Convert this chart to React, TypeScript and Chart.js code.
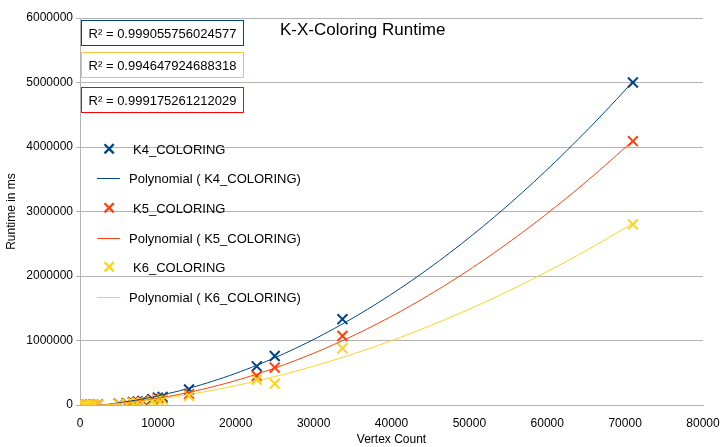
import { useEffect, useRef } from 'react';
import Chart from 'chart.js/auto';

const vertexCounts = [300, 600, 900, 1300, 1700, 2300, 5000, 6000, 6800, 7400, 8000, 9300, 10000, 10600, 14000, 22700, 25000, 33700, 71000];
const k4Runtime = [2000, 3000, 4000, 5000, 6000, 8000, 20000, 30000, 45000, 55000, 65000, 90000, 115000, 125000, 240000, 600000, 760000, 1330000, 5000000];
const k5Runtime = [1500, 2500, 3000, 4000, 5000, 6000, 16000, 24000, 35000, 45000, 52000, 75000, 95000, 100000, 170000, 450000, 580000, 1070000, 4090000];
const k6Runtime = [1000, 2000, 2500, 3000, 4000, 5000, 12000, 18000, 28000, 35000, 42000, 60000, 80000, 85000, 140000, 390000, 330000, 880000, 2800000];
const rSquared = ['0.999055756024577', '0.994647924688318', '0.999175261212029'];

const K4 = '#004586';
const K5 = '#ff420e';
const K6 = '#ffd320';

// least squares quadratic, evaluated along the x range
function trend(xs: number[], ys: number[]) {
  const s = [0, 0, 0, 0, 0];
  const t = [0, 0, 0];
  xs.forEach((x, i) => {
    for (let k = 0; k < 5; k++) s[k] += Math.pow(x, k);
    for (let k = 0; k < 3; k++) t[k] += Math.pow(x, k) * ys[i];
  });
  const m = [[s[0], s[1], s[2], t[0]], [s[1], s[2], s[3], t[1]], [s[2], s[3], s[4], t[2]]];
  for (let i = 0; i < 3; i++) {
    for (let j = i + 1; j < 3; j++) {
      const f = m[j][i] / m[i][i];
      for (let k = i; k < 4; k++) m[j][k] -= f * m[i][k];
    }
  }
  const c = [0, 0, 0];
  for (let i = 2; i >= 0; i--) {
    let v = m[i][3];
    for (let k = i + 1; k < 3; k++) v -= m[i][k] * c[k];
    c[i] = v / m[i][i];
  }
  const out = [];
  const xmax = Math.max(...xs);
  for (let i = 0; i <= 100; i++) {
    const x = (xmax * i) / 100;
    out.push({ x, y: c[0] + c[1] * x + c[2] * x * x });
  }
  return out;
}

const pts = (ys: number[]) => vertexCounts.map((x, i) => ({ x, y: ys[i] }));

export default function App() {
  const canvasRef = useRef<HTMLCanvasElement | null>(null);

  useEffect(() => {
    document.body.style.margin = '0';
    const ctx = canvasRef.current!.getContext('2d')!;
    const scatter = (data: any, color: string) => ({
      type: 'scatter' as const, data, showLine: false, pointStyle: 'crossRot',
      pointRadius: 7, borderColor: color, backgroundColor: color, borderWidth: 2,
    });
    const line = (data: any, color: string) => ({
      type: 'line' as const, data, pointRadius: 0, borderColor: color, borderWidth: 1, tension: 0,
    });
    const chart = new Chart(ctx, {
      type: 'scatter',
      data: {
        datasets: [
          line(trend(vertexCounts, k6Runtime), K6),
          line(trend(vertexCounts, k5Runtime), K5),
          line(trend(vertexCounts, k4Runtime), K4),
          scatter(pts(k6Runtime), K6),
          scatter(pts(k5Runtime), K5),
          scatter(pts(k4Runtime), K4),
        ] as any,
      },
      options: {
        animation: false,
        responsive: false,
        layout: { padding: { top: 18, right: 20 } },
        plugins: { legend: { display: false }, tooltip: { enabled: false } },
        scales: {
          x: {
            type: 'linear', min: 0, max: 80000,
            ticks: { stepSize: 10000, color: '#000', font: { family: 'Liberation Sans', size: 12 }, callback: (v: any) => String(v) },
            grid: { display: false },
            border: { color: '#b3b3b3' },
            title: { display: true, text: 'Vertex Count', color: '#000', padding: 0, font: { family: 'Liberation Sans', size: 12 } },
            afterFit: (s: any) => { s.height = 42; },
          },
          y: {
            min: 0, max: 6000000,
            ticks: { stepSize: 1000000, color: '#000', font: { family: 'Liberation Sans', size: 12 }, callback: (v: any) => String(v) },
            grid: { color: '#b3b3b3', tickLength: 4 },
            border: { color: '#b3b3b3' },
            title: { display: true, text: 'Runtime in ms', color: '#000', font: { family: 'Liberation Sans', size: 12 } },
            afterFit: (s: any) => { s.width = 80; },
          },
        },
      },
    });
    return () => chart.destroy();
  }, []);

  const font = { fontFamily: 'Liberation Sans, Arial, sans-serif', fontSize: 13, color: '#000' };
  const box = (top: number, border: string, text: string) => (
    <div style={{ position: 'absolute', left: 81, top, width: 163, height: 26, border: `1px solid ${border}`, background: '#fff', boxSizing: 'border-box', display: 'flex', alignItems: 'center', justifyContent: 'center', ...font }}>
      R² = {text}
    </div>
  );
  const legend = [
    { y: 149, mark: true, color: K4, text: 'K4_COLORING' },
    { y: 178, mark: false, color: K4, text: 'Polynomial ( K4_COLORING)' },
    { y: 208, mark: true, color: K5, text: 'K5_COLORING' },
    { y: 238, mark: false, color: K5, text: 'Polynomial ( K5_COLORING)' },
    { y: 267, mark: true, color: K6, text: 'K6_COLORING' },
    { y: 297, mark: false, color: K6, text: 'Polynomial ( K6_COLORING)' },
  ];

  return (
    <div style={{ position: 'relative', width: 723, height: 447 }}>
      <canvas ref={canvasRef} width={723} height={447} />
      <div style={{ position: 'absolute', left: 280, top: 20, fontFamily: 'Liberation Sans, Arial, sans-serif', fontSize: 17, color: '#000' }}>K-X-Coloring Runtime</div>
      {box(20, K4, rSquared[0])}
      {box(52, '#f5c542', rSquared[1])}
      {box(87, '#ff0000', rSquared[2])}
      {legend.map((l, i) => (
        <div key={i} style={{ position: 'absolute', left: 97, top: l.y - 8, height: 16, display: 'flex', alignItems: 'center', ...font }}>
          {l.mark ? (
            <span style={{ width: 23, textAlign: 'center', color: l.color, fontSize: 17, fontWeight: 'bold', marginRight: 13 }}>✕</span>
          ) : (
            <span style={{ width: 23, height: 1, background: l.color, marginRight: 9 }} />
          )}
          {l.text}
        </div>
      ))}
    </div>
  );
}
